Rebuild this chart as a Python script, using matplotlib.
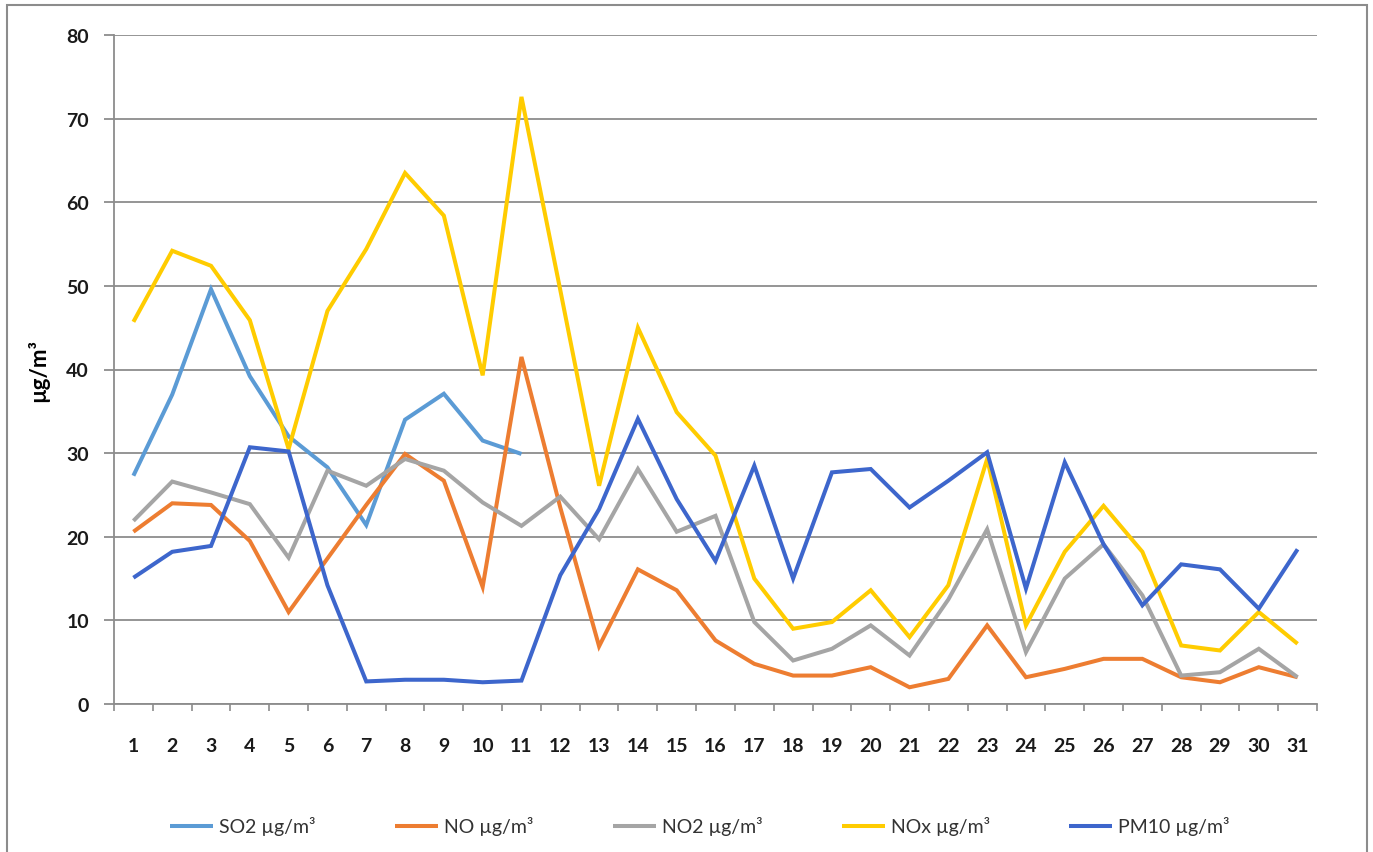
import matplotlib
matplotlib.use("Agg")
import matplotlib.pyplot as plt
from matplotlib.patches import Rectangle
import numpy as np

days = list(range(1, 32))
so2 = [27.3, 37.0, 49.6, 39.2, 32.0, 28.3, 21.4, 34.0, 37.1, 31.5, 29.9]
no = [20.6, 24.0, 23.8, 19.5, 11.0, 17.4, 23.8, 29.9, 26.7, 14.0, 41.5,
      23.5, 6.9, 16.1, 13.6, 7.6, 4.8, 3.4, 3.4, 4.4, 2.0,
      3.0, 9.4, 3.2, 4.2, 5.4, 5.4, 3.2, 2.6, 4.4, 3.2]
no2 = [21.9, 26.6, 25.3, 23.9, 17.5, 27.9, 26.1, 29.3, 27.9, 24.1, 21.3,
       24.8, 19.7, 28.1, 20.6, 22.5, 9.8, 5.2, 6.6, 9.4, 5.8,
       12.5, 20.9, 6.2, 15.0, 19.1, 13.0, 3.4, 3.8, 6.6, 3.2]
nox = [45.7, 54.2, 52.4, 45.9, 30.5, 47.0, 54.4, 63.5, 58.4, 39.3, 72.6,
       49.5, 26.1, 45.0, 34.9, 29.7, 15.0, 9.0, 9.8, 13.6, 8.0,
       14.2, 29.3, 9.4, 18.2, 23.7, 18.2, 7.0, 6.4, 11.0, 7.2]
pm10 = [15.1, 18.2, 18.9, 30.7, 30.2, 14.2, 2.7, 2.9, 2.9, 2.6, 2.8,
        15.4, 23.3, 34.1, 24.5, 17.1, 28.5, 15.0, 27.7, 28.1, 23.5,
        26.7, 30.1, 13.8, 28.9, 19.1, 11.8, 16.7, 16.1, 11.4, 18.5]
series_names = ["SO2 µg/m³", "NO µg/m³", "NO2 µg/m³", "NOx µg/m³", "PM10 µg/m³"]
colors = ["#5B9BD5", "#ED7D31", "#A5A5A5", "#FFCC00", "#3D66CC"]
yticks = [0, 10, 20, 30, 40, 50, 60, 70, 80]
ylabel = "µg/m³"

plt.rcParams['font.family'] = ['Lato', 'DejaVu Sans']

fig = plt.figure(figsize=(13.73, 8.53), dpi=100)
ax = fig.add_axes([114/1373, 1-705/853, 1203/1373, 669/853])

data = [so2, no, no2, nox, pm10]
for vals, name, c in zip(data, series_names, colors):
    ax.plot(days[:len(vals)], vals, color=c, lw=2.9, label=name,
            solid_joinstyle='miter', solid_capstyle='butt')

ax.set_xlim(0.5, 31.5)
ax.set_ylim(0, 80)
ax.set_yticks(yticks)
ax.yaxis.grid(True, color="#8C8C8C", lw=1.3)
ax.set_axisbelow(True)
for s in ["top", "right"]:
    ax.spines[s].set_visible(False)
for s in ["left", "bottom"]:
    ax.spines[s].set_color("#8C8C8C")
    ax.spines[s].set_linewidth(1.3)

ax.set_xticks(days)
ax.set_xticklabels([str(d) for d in days])
ax.set_xticks(np.arange(0.5, 32, 1), minor=True)
ax.tick_params(axis='x', which='major', length=0, pad=24, labelsize=14)
ax.tick_params(axis='x', which='minor', length=5, width=1.2, color="#8C8C8C", direction='out')
ax.tick_params(axis='y', length=7, width=1.3, color="#8C8C8C", pad=11, labelsize=14)
for lab in ax.get_xticklabels() + ax.get_yticklabels():
    lab.set_fontweight('bold')
    lab.set_color('#1a1a1a')

ax.set_ylabel(ylabel, fontsize=16, fontweight='bold', labelpad=12)

leg = fig.legend(loc='center', bbox_to_anchor=(700/1373, 1-827/853), ncol=5,
                 frameon=False, fontsize=14, handlelength=2.2, handletextpad=0.3,
                 columnspacing=4.1)
for t in leg.get_texts():
    t.set_color('#333333')

fig.patches.append(Rectangle((7/1373, -0.05), 1360/1373, 1.05 - 6/853,
                             transform=fig.transFigure, fill=False,
                             edgecolor="#8C8C8C", lw=1.5))

fig.savefig("out.png", dpi=100)
